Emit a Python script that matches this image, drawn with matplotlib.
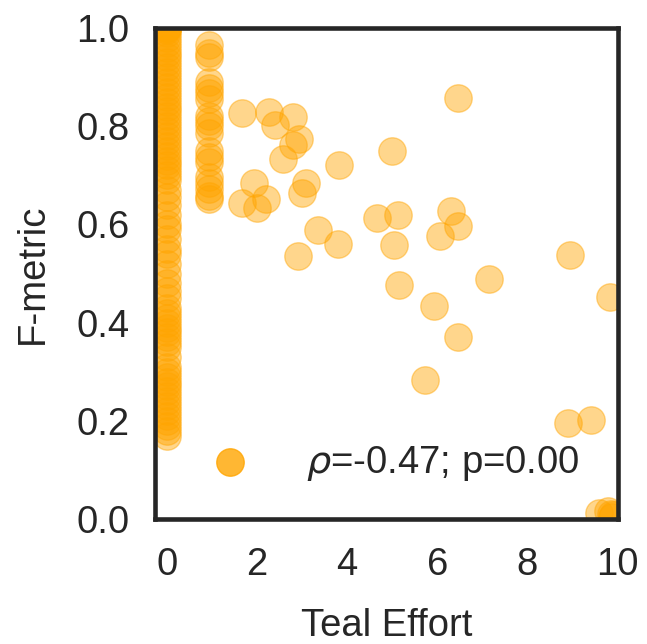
import matplotlib
matplotlib.use("Agg")
import matplotlib.pyplot as plt
import numpy as np

# x = 0 column (many overlapping points)
col0_y = [1.0, 1.0, 1.0, 0.995, 0.99, 0.98, 0.97, 0.96, 0.95, 0.94, 0.93, 0.92,
          0.91, 0.90, 0.89, 0.88, 0.87, 0.86, 0.85, 0.84, 0.83, 0.82, 0.81, 0.80,
          0.79, 0.78, 0.77, 0.76, 0.75, 0.74, 0.73, 0.72, 0.71, 0.70, 0.69,
          0.67, 0.655, 0.64, 0.62, 0.60, 0.59, 0.57, 0.55, 0.54, 0.52,
          0.50, 0.48, 0.465, 0.45, 0.43, 0.42, 0.41, 0.40, 0.39, 0.38, 0.37,
          0.36, 0.35, 0.33, 0.31, 0.30, 0.29, 0.28, 0.27, 0.26, 0.25, 0.24,
          0.23, 0.22, 0.21, 0.20, 0.19, 0.18, 0.17]

# x ~ 0.94 column
col1_y = [0.965, 0.95, 0.94, 0.89, 0.878, 0.868, 0.855, 0.82, 0.81, 0.80,
          0.787, 0.75, 0.738, 0.728, 0.697, 0.685, 0.672, 0.658, 0.652]

# remaining scattered points
other_x = [1.66, 2.28, 2.81, 2.41, 2.93, 2.81, 2.57, 3.83, 4.99, 6.46,
           1.93, 1.66, 2.21, 2.01, 3.08, 3.00, 3.35, 3.79, 2.91, 4.67,
           5.13, 5.05, 6.30, 6.46, 6.07, 5.15, 7.14, 8.94, 9.83, 5.92,
           6.47, 5.72, 8.90, 9.42, 9.60, 9.78, 9.88, 9.90, 9.85]
other_y = [0.827, 0.828, 0.819, 0.802, 0.773, 0.762, 0.734, 0.721, 0.749, 0.857,
           0.684, 0.643, 0.651, 0.633, 0.684, 0.663, 0.589, 0.561, 0.536, 0.614,
           0.619, 0.559, 0.627, 0.597, 0.577, 0.477, 0.489, 0.538, 0.453, 0.434,
           0.371, 0.283, 0.195, 0.202, 0.012, 0.016, 0.004, 0.008, 0.010]

x = np.array([0.0] * len(col0_y) + [0.94] * len(col1_y) + other_x)
y = np.array(col0_y + col1_y + other_y)

plt.rcParams['font.family'] = ['Liberation Sans', 'DejaVu Sans']
plt.rcParams['mathtext.fontset'] = 'dejavusans'

fig = plt.figure(figsize=(6.47, 6.44), dpi=100)
ax = fig.add_axes([155 / 647, 1 - 519 / 644, (617.5 - 155) / 647, (519 - 28) / 644])

ax.scatter(x, y, s=390, color='orange', alpha=0.45, linewidths=1,
           label=r'$\rho$=-0.47; p=0.00', zorder=2)

ax.set_xlim(-0.26, 9.92)
ax.set_ylim(0, 1)
ax.set_xticks([0, 2, 4, 6, 8, 10])
ax.set_yticks([0.0, 0.2, 0.4, 0.6, 0.8, 1.0])
ax.set_yticklabels(['0.0', '0.2', '0.4', '0.6', '0.8', '1.0'])
ax.tick_params(length=0, labelsize=27.5, labelcolor='#262626')
ax.tick_params(axis='x', pad=20)
ax.tick_params(axis='y', pad=18.5)

ax.set_xlabel('Teal Effort', fontsize=27.5, color='#262626', labelpad=18)
ax.set_ylabel('F-metric', fontsize=27.5, color='#262626', labelpad=18)

for sp in ax.spines.values():
    sp.set_color('#262626')
    sp.set_linewidth(3.3)
    sp.set_zorder(5)

leg = ax.legend(loc='center right', bbox_to_anchor=(0.918, 0.114),
                frameon=False, fontsize=27.5, borderaxespad=0, borderpad=0,
                labelcolor='#262626', handletextpad=1.0)
for h in leg.legend_handles:
    h.set_alpha(0.8)

fig.savefig('out.png', dpi=100, facecolor='white')
